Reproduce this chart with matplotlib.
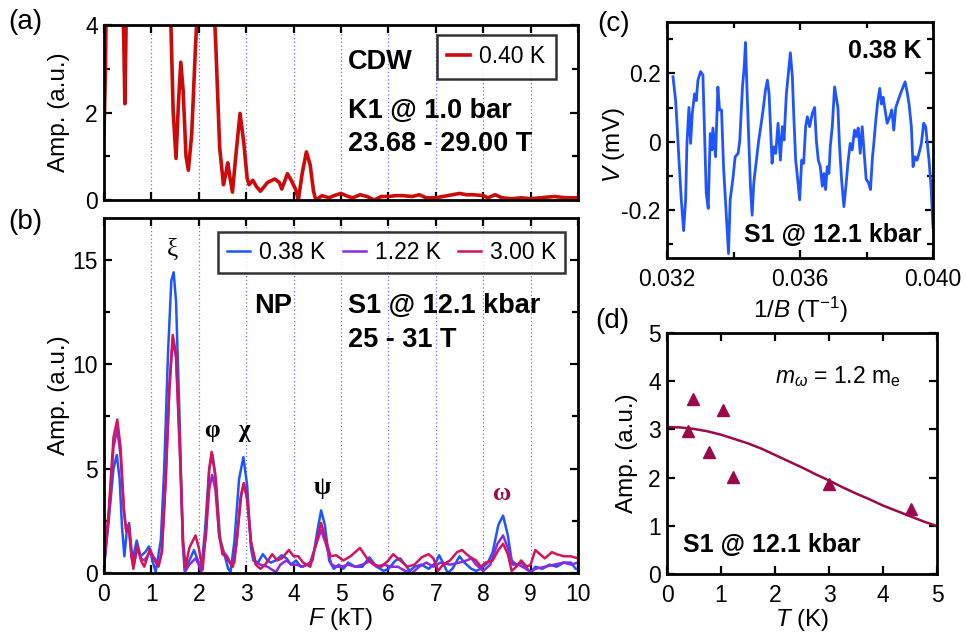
import numpy as np
import matplotlib
matplotlib.use("Agg")
import matplotlib.pyplot as plt
from matplotlib.ticker import MultipleLocator

plt.rcParams['font.family'] = ['Liberation Sans', 'DejaVu Sans']
plt.rcParams['mathtext.fontset'] = 'custom'
plt.rcParams['mathtext.rm'] = 'Liberation Sans'
plt.rcParams['mathtext.it'] = 'Liberation Sans:italic'

# ---------------- data ----------------
# panel (a): CDW FFT, 0.40 K
a_F = [0.0, 0.03, 0.06, 0.15, 0.25, 0.35, 0.42, 0.44, 0.46, 0.5, 0.7, 0.9, 1.1, 1.3, 1.4, 1.46, 1.52,
       1.57, 1.62, 1.67, 1.73, 1.78, 1.85, 1.93, 2.0, 2.1, 2.2, 2.3, 2.36, 2.44, 2.52, 2.57, 2.61,
       2.66, 2.71, 2.78, 2.87, 2.95, 3.02, 3.06, 3.14, 3.22, 3.3, 3.45, 3.6, 3.7, 3.75, 3.87, 3.95,
       4.04, 4.1, 4.18, 4.27, 4.35, 4.42, 4.47, 4.6, 4.75, 4.85, 5.0, 5.15, 5.25, 5.4, 5.55, 5.7,
       5.85, 6.0, 6.15, 6.3, 6.5, 6.65, 6.8, 7.0, 7.15, 7.35, 7.5, 7.65, 7.8, 8.0, 8.1, 8.25, 8.4,
       8.6, 8.8, 9.0, 9.2, 9.5, 9.75, 10.0]
a_amp = [1.5, 3.0, 5.5, 9.0, 9.0, 7.0, 3.5, 2.2, 3.5, 7.0, 12.0, 14.0, 12.0, 8.0, 4.5, 2.0, 0.95,
         2.2, 3.15, 2.5, 1.0, 0.68, 1.5, 3.5, 5.0, 7.0, 7.0, 5.0, 3.5, 1.2, 0.35, 0.6, 0.85,
         0.5, 0.18, 1.0, 1.98, 1.3, 0.5, 0.35, 0.45, 0.3, 0.2, 0.4, 0.48, 0.4, 0.25, 0.6, 0.45,
         0.25, 0.0, 0.6, 1.1, 0.8, 0.2, 0.0, 0.1, 0.05, 0.1, 0.15, 0.08, 0.05, 0.12, 0.08, 0.0,
         0.08, 0.08, 0.1, 0.1, 0.08, 0.12, 0.05, 0.05, 0.08, 0.12, 0.15, 0.12, 0.12, 0.1, 0.05, 0.12, 0.05,
         0.03, 0.05, 0.03, 0.05, 0.08, 0.05, 0.05]

# panel (b): NP FFT at three temperatures
b_F_038 = [0.0, 0.1, 0.2, 0.27, 0.33, 0.38, 0.43, 0.48, 0.53, 0.6, 0.69, 0.77, 0.87, 0.95, 1.02, 1.09,
           1.2, 1.27, 1.35, 1.42, 1.47, 1.52, 1.6, 1.66, 1.7, 1.8, 1.9, 1.98, 2.05, 2.13, 2.22, 2.29,
           2.36, 2.45, 2.55, 2.62, 2.67, 2.75, 2.85, 2.94, 3.02, 3.1, 3.15, 3.25, 3.35, 3.45, 3.52,
           3.62, 3.75, 3.85, 3.95, 4.05, 4.15, 4.3, 4.4, 4.5, 4.58, 4.66, 4.75, 4.85, 4.95, 5.05,
           5.15, 5.3, 5.45, 5.6, 5.75, 5.9, 6.0, 6.15, 6.25, 6.35, 6.45, 6.55, 6.7, 6.85, 7.0, 7.07,
           7.15, 7.25, 7.35, 7.5, 7.6, 7.75, 7.85, 7.95, 8.1, 8.2, 8.32, 8.42, 8.52, 8.6, 8.7, 8.8,
           8.9, 9.0, 9.1, 9.25, 9.4, 9.55, 9.7, 9.85, 9.95, 10.0]
b_A_038 = [0.3, 2.5, 5.0, 5.65, 4.5, 2.2, 0.8, 2.0, 2.4, 0.6, 1.55, 0.8, 1.0, 1.27, 0.6, 0.05,
           1.6, 5.0, 10.5, 14.0, 14.4, 13.0, 7.0, 1.5, 0.1, 0.6, 1.1, 0.6, 0.1, 2.0, 5.0, 5.65,
           4.5, 1.6, 0.8, 0.2, 0.05, 1.5, 4.5, 5.55, 4.2, 1.2, 0.6, 0.5, 0.9, 0.6, 0.5,
           0.6, 0.85, 0.7, 0.4, 0.6, 0.3, 0.4, 0.6, 2.0, 3.0, 2.3, 0.6, 0.2, 0.4, 0.2,
           0.5, 0.3, 0.3, 0.75, 0.3, 0.1, 0.2, 0.6, 0.7, 0.4, 0.1, 0.3, 0.4, 0.2, 0.5, 0.85,
           0.5, 0.0, 0.2, 0.8, 0.5, 0.2, 0.1, 0.2, 0.5, 1.0, 2.3, 2.75, 1.8, 0.6, 0.4, 0.5,
           0.3, 0.0, 0.3, 0.2, 0.4, 0.3, 0.5, 0.5, 0.2, 0.2]

b_F_122 = [0.0, 0.1, 0.2, 0.28, 0.35, 0.42, 0.47, 0.52, 0.58, 0.62, 0.7, 0.78, 0.85, 0.97, 1.07, 1.15,
           1.22, 1.3, 1.38, 1.45, 1.52, 1.6, 1.67, 1.72, 1.8, 1.93, 2.0, 2.05, 2.15, 2.22, 2.28, 2.35,
           2.43, 2.52, 2.6, 2.68, 2.75, 2.82, 2.9, 2.95, 3.02, 3.1, 3.2, 3.3, 3.45, 3.55, 3.63, 3.72,
           3.85, 3.95, 4.05, 4.2, 4.35, 4.48, 4.58, 4.68, 4.8, 4.9, 5.0, 5.15, 5.3, 5.45, 5.6, 5.75,
           5.9, 6.05, 6.2, 6.35, 6.5, 6.65, 6.8, 6.95, 7.1, 7.3, 7.5, 7.65, 7.75, 7.85, 8.0, 8.15,
           8.3, 8.42, 8.52, 8.62, 8.75, 8.9, 9.0, 9.1, 9.3, 9.5, 9.7, 9.85, 10.0]
b_A_122 = [0.3, 2.8, 6.0, 6.9, 5.6, 3.0, 2.0, 2.3, 0.8, 0.3, 1.2, 0.7, 0.6, 1.0, 0.7, 0.4,
           1.0, 4.3, 8.8, 11.2, 10.3, 5.8, 1.2, 0.1, 0.4, 0.7, 0.4, 0.05, 1.8, 4.0, 4.7, 4.0,
           1.8, 1.0, 0.8, 0.4, 0.5, 2.0, 3.8, 4.3, 3.5, 1.5, 0.5, 0.4, 0.3, 0.15, 0.05, 0.4,
           0.6, 0.4, 0.4, 0.3, 0.5, 1.4, 2.05, 1.4, 0.4, 0.3, 0.3, 0.4, 0.3, 0.4, 0.55, 0.3,
           0.4, 0.3, 0.3, 0.1, 0.0, 0.3, 0.5, 0.3, 0.5, 0.4, 0.5, 0.6, 0.7, 0.4, 0.1, 0.4,
           1.4, 1.8, 1.2, 0.4, 0.4, 0.2, 0.05, 0.2, 0.3, 0.4, 0.5, 0.4, 0.5]

b_F_300 = [0.0, 0.1, 0.2, 0.28, 0.35, 0.42, 0.47, 0.52, 0.58, 0.62, 0.7, 0.78, 0.85, 0.97, 1.07, 1.15,
           1.22, 1.3, 1.38, 1.45, 1.52, 1.6, 1.67, 1.72, 1.8, 1.93, 2.0, 2.08, 2.15, 2.22, 2.27, 2.34,
           2.43, 2.5, 2.57, 2.65, 2.72, 2.8, 2.88, 2.95, 3.02, 3.1, 3.2, 3.3, 3.4, 3.55, 3.65, 3.75,
           3.9, 4.0, 4.1, 4.2, 4.35, 4.45, 4.58, 4.68, 4.78, 4.9, 5.05, 5.2, 5.4, 5.55, 5.7, 5.85,
           6.0, 6.1, 6.25, 6.4, 6.55, 6.7, 6.85, 6.95, 7.05, 7.15, 7.3, 7.45, 7.55, 7.7, 7.85, 7.95,
           8.05, 8.2, 8.32, 8.42, 8.52, 8.6, 8.7, 8.8, 8.92, 9.0, 9.1, 9.2, 9.3, 9.45, 9.55, 9.7,
           9.85, 10.0]
b_A_300 = [0.3, 3.0, 6.5, 7.35, 6.0, 3.0, 2.0, 2.3, 0.8, 0.2, 1.3, 0.6, 0.3, 1.15, 0.6, 0.3,
           1.0, 4.5, 9.0, 11.4, 10.5, 6.0, 1.5, 0.3, 1.2, 1.8, 1.2, 0.15, 2.0, 5.0, 5.8, 4.8,
           1.8, 0.9, 0.8, 0.5, 0.3, 1.5, 3.6, 4.3, 3.6, 1.5, 0.4, 0.2, 0.4, 0.9, 0.6, 0.7,
           1.1, 0.8, 0.8, 0.5, 0.3, 1.2, 2.4, 1.6, 0.8, 0.85, 0.6, 0.8, 1.2, 0.7, 0.4, 0.3,
           0.6, 0.9, 0.6, 0.3, 0.4, 0.75, 0.9, 0.7, 0.1, 0.4, 0.6, 1.0, 1.1, 0.8, 0.6, 0.3,
           0.5, 0.6, 1.1, 1.4, 0.9, 0.1, 0.3, 0.6, 0.3, 0.4, 1.1, 0.9, 0.7, 1.0, 0.9, 0.8,
           0.8, 0.7]

b_labels = ['0.38 K', '1.22 K', '3.00 K']

# panel (c): oscillations vs 1/B at 0.38 K
c_invB = [0.03218, 0.03226, 0.03230, 0.03236, 0.03243, 0.03250, 0.03256, 0.03260, 0.03266, 0.03271,
          0.03276, 0.03283, 0.03288, 0.03293, 0.03301, 0.03308, 0.03313, 0.03318, 0.03324, 0.03330,
          0.03335, 0.03338, 0.03346, 0.03353, 0.03358, 0.03364, 0.03370, 0.03378, 0.03385, 0.03390,
          0.03398, 0.03405, 0.03414, 0.03419, 0.03427, 0.03432, 0.03436, 0.03441, 0.03447, 0.03451,
          0.03456, 0.03461, 0.03469, 0.03476, 0.03482, 0.03489, 0.03496, 0.03502, 0.03507, 0.03512,
          0.03516, 0.03521, 0.03527, 0.03534, 0.03541, 0.03547, 0.03552, 0.03559, 0.03565, 0.03571,
          0.03577, 0.03581, 0.03587, 0.03593, 0.03599, 0.03605, 0.03611, 0.03617, 0.03622, 0.03629,
          0.03637, 0.03644, 0.03649, 0.03655, 0.03661, 0.03667, 0.03672, 0.03677, 0.03682, 0.03687,
          0.03691, 0.03697, 0.03704, 0.03709, 0.03714, 0.03719, 0.03725, 0.03732, 0.03739, 0.03745,
          0.03751, 0.03757, 0.03764, 0.03769, 0.03775, 0.03781, 0.03787, 0.03793, 0.03799, 0.03806,
          0.03812, 0.03818, 0.03822, 0.03828, 0.03834, 0.03840, 0.03845, 0.03850, 0.03856, 0.03862,
          0.03870, 0.03876, 0.03882, 0.03888, 0.03895, 0.03902, 0.03910, 0.03916, 0.03922, 0.03928,
          0.03935, 0.03940, 0.03946, 0.03952, 0.03958, 0.03965, 0.03972, 0.03978, 0.03982, 0.03988,
          0.03994, 0.04000]
c_V = [0.19, 0.12, 0.054, -0.054, -0.17, -0.26, -0.17, -0.005, 0.10, -0.005,
       0.083, 0.14, 0.12, 0.18, 0.205, 0.195, 0.024, -0.15, -0.195, 0.024,
       -0.024, 0.04, -0.044, 0.16, 0.093, 0.093, -0.073, -0.21, -0.327, -0.17,
       -0.11, -0.044, -0.034, 0.005, 0.16, 0.215, 0.29, 0.14, -0.024, -0.13,
       -0.215, -0.12, -0.054, 0.005, 0.044, 0.093, 0.15, 0.18, 0.14, 0.024,
       -0.063, -0.015, -0.034, 0.054, -0.054, 0.044, 0.005, 0.14, 0.20, 0.26,
       0.19, 0.083, -0.054, -0.11, -0.17, -0.054, -0.063, 0.044, 0.073, 0.044,
       0.083, 0.10, 0.005, -0.054, -0.073, -0.13, -0.093, -0.14, -0.073, -0.093,
       -0.015, 0.044, 0.16, 0.13, 0.10, -0.015, -0.11, -0.19, -0.12, -0.054,
       -0.005, -0.024, 0.034, 0.015, 0.04, -0.034, 0.044, -0.034, -0.11, -0.12,
       -0.14, -0.044, -0.005, 0.063, 0.12, 0.156, 0.11, 0.13, 0.093, 0.054,
       0.073, 0.093, 0.034, 0.10, 0.12, 0.14, 0.16, 0.175, 0.146, 0.11,
       0.044, -0.073, -0.044, -0.054, -0.034, -0.005, 0.054, 0.044, 0.005, -0.054,
       -0.13, -0.25]

# panel (d): amplitude of omega vs temperature, with LK fit
d_T = [0.38, 0.49, 0.78, 1.03, 1.23, 3.00, 4.51]
d_amp = [2.96, 3.63, 2.54, 3.41, 2.02, 1.87, 1.34]
fit_T = [0.0, 0.25, 0.5, 0.75, 1.0, 1.25, 1.5, 1.75, 2.0, 2.25, 2.5, 2.75, 3.0, 3.25, 3.5, 3.75,
         4.0, 4.25, 4.5, 4.75, 5.0]
fit_amp = [3.05, 3.04, 3.01, 2.96, 2.89, 2.80, 2.71, 2.60, 2.47, 2.34, 2.21, 2.07, 1.94, 1.80,
           1.67, 1.55, 1.42, 1.31, 1.20, 1.09, 0.995]

# ---------------- styling ----------------
RED = '#cc0a0a'
BLUE = '#1f55ff'
PURPLE = '#8c2ae0'
CRIMSON = '#d4145a'
MAROON = '#9a0a4a'
GRID = '#6a6aff'
FS = 16.5      # tick labels / legends
FL = 17.5      # axis labels
FB = 19.5      # bold annotations (a, b)
FB2 = 18       # bold annotations (c, d)

fig = plt.figure(figsize=(9.66, 6.35), dpi=100)
W, H = 966, 635

def add_ax(l, r, t, b):
    return fig.add_axes([l / W, 1 - b / H, (r - l) / W, (b - t) / H])

axa = add_ax(104, 578, 25, 200)
axb = add_ax(104, 578, 218, 573)
axc = add_ax(667, 933, 22, 258)
axd = add_ax(667, 937, 333, 574)

def style(ax):
    for s in ax.spines.values():
        s.set_linewidth(2.0)
    ax.tick_params(which='both', direction='in', top=True, right=True, width=1.6,
                   labelsize=FS)
    ax.tick_params(axis='x', which='both', pad=7)
    ax.tick_params(axis='y', which='both', pad=4.5)
    ax.tick_params(which='major', length=6)
    ax.tick_params(which='minor', length=4)

for ax in (axa, axb, axc, axd):
    style(ax)

# ---- (a)
for x in range(1, 10):
    axa.axvline(x, color=GRID, lw=0.9, ls=(0, (1, 2)), zorder=0)
axa.plot(a_F, a_amp, color=RED, lw=2.6, label='0.40 K', solid_joinstyle='round')
axa.set_xlim(0, 10)
axa.set_ylim(0, 4)
axa.xaxis.set_major_locator(MultipleLocator(1))
axa.yaxis.set_major_locator(MultipleLocator(2))
axa.yaxis.set_minor_locator(MultipleLocator(1))
axa.set_xticklabels([])
axa.set_ylabel('Amp. (a.u.)', fontsize=FL)
axa.yaxis.set_label_coords(-0.072, 0.5)
leg = axa.legend(loc='upper left', bbox_to_anchor=(0.7025, 0.943), fontsize=FS, frameon=True,
                 fancybox=False, handlelength=1.0, handletextpad=0.4, borderpad=0.45,
                 borderaxespad=0)
leg.get_frame().set_edgecolor('black')
leg.get_frame().set_linewidth(1.8)
axa.text(5.14, 3.15, 'CDW', fontsize=FB, fontweight='bold', va='center')
axa.text(5.14, 2.03, 'K1 @ 1.0 bar', fontsize=FB, fontweight='bold', va='center')
axa.text(5.14, 1.28, '23.68 - 29.00 T', fontsize=FB, fontweight='bold', va='center')

# ---- (b)
for x in range(1, 10):
    axb.axvline(x, color=GRID, lw=0.9, ls=(0, (1, 2)), zorder=0)
axb.plot(b_F_038, b_A_038, color=BLUE, lw=1.8, label=b_labels[0])
axb.plot(b_F_122, b_A_122, color=PURPLE, lw=1.8, label=b_labels[1])
axb.plot(b_F_300, b_A_300, color=CRIMSON, lw=1.8, label=b_labels[2])
axb.set_xlim(0, 10)
axb.set_ylim(0, 17)
axb.xaxis.set_major_locator(MultipleLocator(1))
axb.yaxis.set_major_locator(MultipleLocator(5))
axb.yaxis.set_minor_locator(MultipleLocator(2.5))
axb.set_ylabel('Amp. (a.u.)', fontsize=FL)
axb.yaxis.set_label_coords(-0.072, 0.5)
axb.set_xlabel('$F$ (kT)', fontsize=FL, labelpad=0)
leg = axb.legend(loc='upper left', bbox_to_anchor=(0.2405, 0.9606), ncol=3, fontsize=FS,
                 frameon=True, fancybox=False, handlelength=1.0, handletextpad=0.4,
                 columnspacing=0.75, borderpad=0.4, borderaxespad=0)
leg.get_frame().set_edgecolor('black')
leg.get_frame().set_linewidth(1.8)
axb.text(3.16, 12.8, 'NP', fontsize=FB, fontweight='bold', va='center')
axb.text(5.14, 12.8, 'S1 @ 12.1 kbar', fontsize=FB, fontweight='bold', va='center')
axb.text(5.14, 11.15, '25 - 31 T', fontsize=FB, fontweight='bold', va='center')
gfont = dict(family=['Liberation Serif', 'DejaVu Serif'], fontsize=18, ha='center', va='center')
axb.text(1.45, 15.5, 'ξ', **gfont)
axb.text(2.27, 6.8, 'φ', fontweight='bold', **gfont)
axb.text(2.95, 6.8, 'χ', fontweight='bold', **gfont)
axb.text(4.6, 4.1, 'ψ', fontweight='bold', **gfont)
axb.text(8.4, 3.8, 'ω', fontweight='bold', color=MAROON, **gfont)

# ---- (c)
axc.plot(c_invB, c_V, color=BLUE, lw=2.0)
axc.set_xlim(0.032, 0.040)
axc.set_ylim(-0.34, 0.35)
axc.xaxis.set_minor_locator(MultipleLocator(0.002))
axc.yaxis.set_minor_locator(MultipleLocator(0.1))
axc.set_xticks([0.032, 0.036, 0.040])
axc.set_xticklabels(['0.032', '0.036', '0.040'])
axc.set_yticks([-0.2, 0.0, 0.2])
axc.set_yticklabels(['-0.2', '0', '0.2'])
axc.set_ylabel('$V$ (mV)', fontsize=FL)
axc.yaxis.set_label_coords(-0.150, 0.48)
axc.set_xlabel(r'$\mathit{1/B}$ (T$^{\mathregular{-1}}$)', fontsize=FL, labelpad=3)
axc.text(0.03967, 0.265, '0.38 K', fontsize=FB2, fontweight='bold', ha='right', va='center')
axc.text(0.03967, -0.274, 'S1 @ 12.1 kbar', fontsize=FB2, fontweight='bold', ha='right', va='center')

# ---- (d)
axd.plot(fit_T, fit_amp, color=MAROON, lw=1.8)
axd.plot(d_T, d_amp, ls='none', marker='^', ms=9, color=MAROON)
axd.set_xlim(0, 5)
axd.set_ylim(0, 5)
axd.xaxis.set_major_locator(MultipleLocator(1))
axd.yaxis.set_major_locator(MultipleLocator(1))
axd.set_ylabel('Amp. (a.u.)', fontsize=FL)
axd.yaxis.set_label_coords(-0.107, 0.5)
axd.set_xlabel('$T$ (K)', fontsize=FL, labelpad=0)
axd.text(2.0, 4.1, r'$m_\omega$ = 1.2 m$_\mathregular{e}$', fontsize=16.5, ha='left', va='center')
axd.text(0.3, 0.6, 'S1 @ 12.1 kbar', fontsize=FB2, fontweight='bold', ha='left', va='center')

# panel letters
for (x, y, s) in [(8, 22, '(a)'), (8, 222, '(b)'), (597, 24, '(c)'), (595, 321, '(d)')]:
    fig.text(x / W, 1 - y / H, s, fontsize=20, ha='left', va='center')

fig.savefig('out.png', dpi=100)
